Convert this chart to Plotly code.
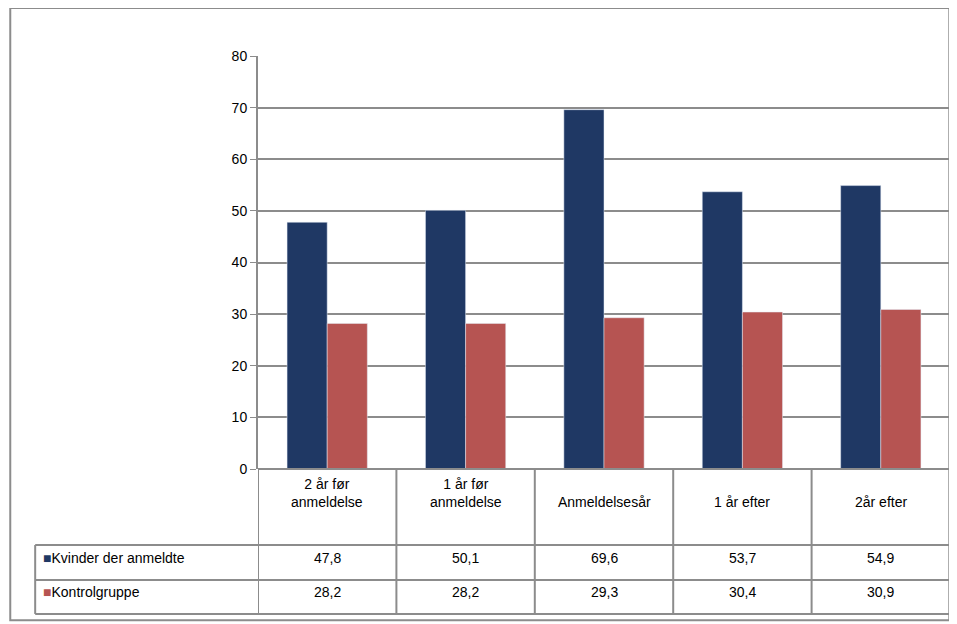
import plotly.graph_objects as go

categories = ["2 år før<br>anmeldelse", "1 år før<br>anmeldelse", "Anmeldelsesår", "1 år efter", "2år efter"]
kvinder = [47.8, 50.1, 69.6, 53.7, 54.9]
kontrol = [28.2, 28.2, 29.3, 30.4, 30.9]
series_names = ["Kvinder der anmeldte", "Kontrolgruppe"]
colors = ["#1F3864", "#B65452"]
y_ticks = [0, 10, 20, 30, 40, 50, 60, 70, 80]

xs = list(range(len(categories)))
fig = go.Figure()
for name, vals, col in zip(series_names, [kvinder, kontrol], colors):
    fig.add_trace(go.Bar(x=xs, y=vals, name=name, marker_color=col, showlegend=False))

font = dict(family="Liberation Sans, Arial", size=14, color="#000000")
line_col = "#8C8C8C"

# table geometry (paper units relative to plot area)
y_hdr, y_r1, y_r2 = -0.184, -0.269, -0.351
x_left = -0.322
dy = -0.012  # text sits a bit lower in cells

shapes = []
# outer chart border
shapes.append(dict(type="rect", xref="paper", yref="paper", x0=-0.358, x1=0.999, y0=-0.366, y1=1.116,
                   line=dict(color=line_col, width=2)))
# horizontal table lines
for yy, x0 in [(0, 0), (y_hdr, x_left), (y_r1, x_left), (y_r2, x_left)]:
    shapes.append(dict(type="line", xref="paper", yref="paper", x0=x0, x1=1,
                       y0=yy, y1=yy, line=dict(color=line_col, width=2)))
# vertical table lines
for i in range(len(categories) + 1):
    shapes.append(dict(type="line", xref="x", yref="paper", x0=i - 0.5, x1=i - 0.5,
                       y0=y_r2, y1=0, line=dict(color=line_col, width=2)))
shapes.append(dict(type="line", xref="paper", yref="paper", x0=x_left, x1=x_left,
                   y0=y_r2, y1=y_hdr, line=dict(color=line_col, width=2)))

ann = []
for i, c in enumerate(categories):
    ann.append(dict(x=i, y=y_hdr / 2 + dy, xref="x", yref="paper", text=c, showarrow=False, font=font))
    ann.append(dict(x=i, y=(y_hdr + y_r1) / 2 + dy, xref="x", yref="paper", text=f"{kvinder[i]:.1f}".replace(".", ","),
                    showarrow=False, font=font))
    ann.append(dict(x=i, y=(y_r1 + y_r2) / 2 + dy, xref="x", yref="paper", text=f"{kontrol[i]:.1f}".replace(".", ","),
                    showarrow=False, font=font))
for (y0, y1), name, col in zip([(y_hdr, y_r1), (y_r1, y_r2)], series_names, colors):
    ann.append(dict(x=x_left + 0.008, y=(y0 + y1) / 2 + dy, xref="paper", yref="paper", xanchor="left",
                    text=f"<span style='color:{col}'>■</span>{name}", showarrow=False, font=font))

fig.update_layout(
    width=949, height=616,
    margin=dict(l=250, r=7, t=48, b=155, autoexpand=False),
    paper_bgcolor="white", plot_bgcolor="white",
    barmode="group", bargap=0.42, bargroupgap=0,
    xaxis=dict(range=[-0.5, 4.5], showticklabels=False, showgrid=False, zeroline=False),
    yaxis=dict(range=[0, 80], tickvals=y_ticks, showgrid=True, gridcolor=line_col, gridwidth=2,
               showline=True, linecolor=line_col, linewidth=2, ticks="outside", ticklen=6,
               tickcolor=line_col, tickfont=font, zeroline=False),
    shapes=shapes, annotations=ann,
)
fig.write_html("out.html")
